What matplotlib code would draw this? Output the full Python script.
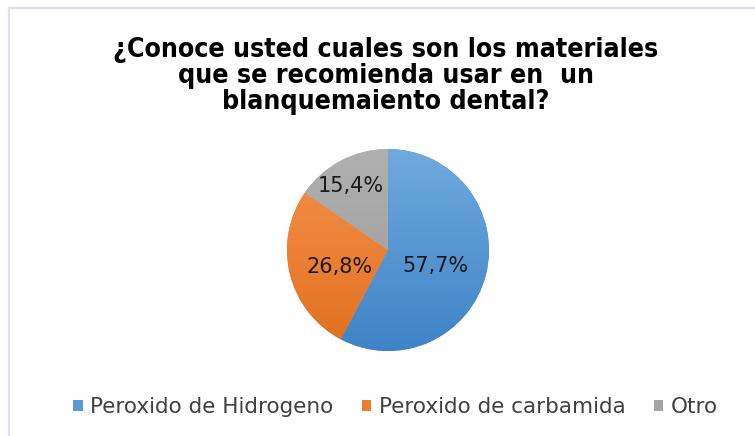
import matplotlib.pyplot as plt
import numpy as np
from matplotlib.colors import LinearSegmentedColormap
from matplotlib.patches import Rectangle

# Datos
categorias = ["Peroxido de Hidrogeno", "Peroxido de carbamida", "Otro"]
porcentajes = [57.7, 26.8, 15.4]
etiquetas = ["57,7%", "26,8%", "15,4%"]
titulo = "¿Conoce usted cuales son los materiales\nque se recomienda usar en  un\nblanquemaiento dental?"

# Colores (claro arriba, oscuro abajo)
colores = ["#5B9BD5", "#ED7D31", "#A5A5A5"]
grad_claro = ["#70A9DE", "#F4924F", "#B0B0B0"]
grad_oscuro = ["#3F84C7", "#E2701E", "#9A9A9A"]

fig = plt.figure(figsize=(7.55, 4.36), dpi=100)
fig.patch.set_facecolor("white")

# Borde del área del gráfico
fig.patches.append(Rectangle((9 / 755, -0.1), 1.2, 1 - 8 / 436 + 0.1,
                             transform=fig.transFigure, fill=False,
                             edgecolor="#DCE2E9", linewidth=1.6))

ax = fig.add_axes([(388 - 101) / 755, (436 - 250 - 101) / 436, 202 / 755, 202 / 436])
wedges, textos = ax.pie(porcentajes, colors=colores, startangle=90,
                        counterclock=False, radius=1,
                        wedgeprops=dict(linewidth=0))

# Relleno en degradado vertical
for w, c1, c2 in zip(wedges, grad_claro, grad_oscuro):
    cmap = LinearSegmentedColormap.from_list("g", [c2, c1])
    grad = np.linspace(0, 1, 256).reshape(-1, 1)
    im = ax.imshow(grad, cmap=cmap, extent=[-1, 1, -1, 1], origin="lower",
                   aspect="auto", zorder=w.get_zorder() + 0.1)
    im.set_clip_path(w)

# Etiquetas de porcentaje
pos_etiquetas = [(0.47, -0.16), (-0.48, -0.17), (-0.37, 0.63)]
for txt, (x, y) in zip(etiquetas, pos_etiquetas):
    ax.text(x, y, txt, ha="center", va="center", fontsize=15,
            family="DejaVu Sans", color="#1a1a1a", zorder=10)

ax.set_xlim(-1, 1)
ax.set_ylim(-1, 1)
ax.axis("off")

fig.text(0.511, 1 - 76 / 436, titulo, ha="center", va="center",
         fontsize=19.2, fontweight="bold", linespacing=1.02,
         fontstretch="condensed")

leg = fig.legend(wedges, categorias, loc="center", ncol=3,
                 bbox_to_anchor=(0.524, 1 - 407 / 436), frameon=False,
                 prop=dict(family="DejaVu Sans", size=15.5),
                 handlelength=0.45, handleheight=0.45,
                 handletextpad=0.35, columnspacing=1.3)
for t in leg.get_texts():
    t.set_color("#404040")

fig.savefig("out.png", dpi=100)
